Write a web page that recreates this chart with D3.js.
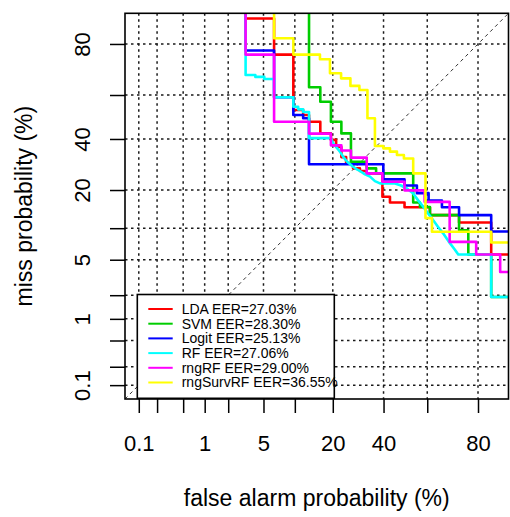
<!DOCTYPE html>
<html>
<head>
<meta charset="utf-8">
<script src="https://cdn.jsdelivr.net/npm/d3@7"></script>
<style>
  html, body { margin: 0; padding: 0; background: #fff; }
  svg { display: block; }
  text { font-family: "Liberation Sans", Arial, Helvetica, sans-serif; fill: #000; }
</style>
</head>
<body>
<svg id="chart" width="510" height="517"></svg>
<script>
// DET curves: false alarm vs miss probability (%), both on normal-deviate axes.

const tickValues = [0.1, 0.2, 0.5, 1, 2, 5, 10, 20, 40, 60, 80];
const tickLabels = ["0.1", "", "", "1", "", "5", "", "20", "40", "", "80"];

const seriesNames  = ["LDA", "SVM", "Logit", "RF", "rngRF", "rngSurvRF"];
const eerValues    = [27.03, 28.30, 25.13, 27.06, 29.00, 36.55];
const seriesColors = ["#ff0000", "#00cd00", "#0000ff", "#00ffff", "#ff00ff", "#ffff00"];

// [false alarm %, miss %] step vertices for each classifier
const lda = [[3.2,99.9],[3.2,87.2],[6.4,87.2],[6.4,76.4],[9.7,76.4],[9.7,53.2],[11.8,53.2],[11.8,50.9],
  [13.2,50.9],[13.2,47.8],[16.2,47.8],[16.2,42.5],[19.4,42.5],[19.4,39.6],[21.1,39.6],[21.1,36.5],
  [22.9,36.5],[22.9,32.2],[24.6,32.2],[24.6,29.8],[27.2,29.8],[27.2,27.7],[29.9,27.7],[29.9,26.7],
  [32.7,26.7],[32.7,25.8],[39.5,25.8],[39.5,17.9],[42.9,17.9],[42.9,16.2],[49.6,16.2],[49.6,14.9],
  [61.2,14.9],[61.2,12.9],[73.3,12.9],[73.3,11.2],[84.0,11.2],[84.0,5.65],[99.9,5.65]];

const svm = [[13.2,99.9],[13.2,63.4],[16.2,63.4],[16.2,57.0],[19.4,57.0],[19.4,47.8],[22.9,47.8],[22.9,42.5],
  [26.4,42.5],[26.4,30.3],[32.7,30.3],[32.7,27.7],[36.7,27.7],[36.7,25.8],[53.6,25.8],[53.6,16.2],
  [56.7,16.2],[56.7,15.0],[61.2,15.0],[61.2,12.9],[73.3,12.9],[73.3,9.6],[76.7,9.6],[76.7,5.65],
  [84.0,5.65],[84.0,1.9],[99.9,1.9]];

const logit = [[3.2,99.9],[3.2,77.8],[6.4,77.8],[6.4,59.0],[9.7,59.0],[9.7,50.9],[11.8,50.9],[11.8,49.4],
  [13.2,49.4],[13.2,29.3],[39.9,29.3],[39.9,23.6],[49.6,23.6],[49.6,21.5],[55.3,21.5],[55.3,19.0],
  [60.6,19.0],[60.6,16.8],[66.4,16.8],[66.4,14.9],[73.3,14.9],[73.3,12.9],[84.0,12.9],[84.0,9.35],
  [99.9,9.35]];

const rf = [[3.2,99.9],[3.2,68.6],[4.1,68.6],[4.1,67.8],[5.1,67.8],[5.1,66.9],[6.4,66.9],[6.4,59.0],
  [9.7,59.0],[9.7,54.7],[10.7,54.7],[10.7,53.5],[11.8,53.5],[11.8,52.3],[13.2,52.3],[13.2,40.4],
  [19.4,40.4],[20.1,38.2],[21.1,36.5],[22.4,34.5],[23.5,32.4],[24.9,30.4],[26.0,29.4],[27.2,28.3],
  [28.7,27.3],[29.9,26.7],[32.0,25.4],[34.1,24.6],[36.2,23.0],[38.4,22.2],[45.2,22.2],[48.0,21.5],
  [50.7,20.5],[53.5,19.0],[55.8,16.9],[58.1,15.1],[60.3,13.35],[62.5,11.8],[64.7,10.3],[66.9,9.0],
  [69.7,7.3],[71.7,6.3],[73.0,5.65],[84.0,5.65],[84.0,1.9],[99.9,1.9]];

const rngRF = [[3.2,99.9],[3.2,76.4],[6.4,76.4],[6.4,47.8],[13.2,47.8],[13.2,42.4],[19.4,42.4],[19.4,37.2],
  [22.9,37.2],[22.9,35.0],[26.4,35.0],[26.4,32.0],[32.7,32.0],[32.7,25.8],[39.5,25.8],[39.5,22.8],
  [49.6,22.8],[49.6,19.9],[58.8,19.9],[58.8,16.4],[69.6,16.4],[69.6,7.5],[79.4,7.5],[79.4,5.65],
  [86.4,5.65],[86.4,3.7],[99.9,3.7]];

const rngSurvRF = [[6.4,99.9],[6.4,81.8],[9.7,81.8],[9.7,76.4],[16.1,76.4],[16.1,74.7],[19.1,74.7],[19.1,69.3],
  [22.8,69.3],[22.8,67.2],[26.2,67.2],[26.2,64.0],[29.7,64.0],[29.7,62.2],[33.0,62.2],[33.0,49.4],
  [36.2,49.4],[36.2,36.9],[39.9,36.9],[39.9,35.9],[42.9,35.9],[42.9,34.5],[46.1,34.5],[46.1,33.1],
  [49.3,33.1],[49.3,31.6],[53.6,31.6],[53.6,25.8],[59.2,25.8],[59.2,12.2],[62.1,12.2],[62.1,9.3],
  [84.0,9.3],[84.0,7.4],[99.9,7.4]];

const seriesData = [lda, svm, logit, rf, rngRF, rngSurvRF];

// Inverse standard normal CDF (Acklam's rational approximation)
function qnorm(p) {
  const a = [-3.969683028665376e+01, 2.209460984245205e+02, -2.759285104469687e+02,
              1.383577518672690e+02, -3.066479806614716e+01, 2.506628277459239e+00];
  const b = [-5.447609879822406e+01, 1.615858368580409e+02, -1.556989798598866e+02,
              6.680131188771972e+01, -1.328068155288572e+01];
  const c = [-7.784894002430293e-03, -3.223964580411365e-01, -2.400758277161838e+00,
             -2.549732539343734e+00, 4.374664141464968e+00, 2.938163982698783e+00];
  const d = [7.784695709041462e-03, 3.224671290700398e-01, 2.445134137142996e+00,
             3.754408661907416e+00];
  const pl = 0.02425, ph = 1 - pl;
  let q, r;
  if (p < pl) {
    q = Math.sqrt(-2 * Math.log(p));
    return (((((c[0]*q+c[1])*q+c[2])*q+c[3])*q+c[4])*q+c[5]) / ((((d[0]*q+d[1])*q+d[2])*q+d[3])*q+1);
  }
  if (p > ph) {
    q = Math.sqrt(-2 * Math.log(1 - p));
    return -(((((c[0]*q+c[1])*q+c[2])*q+c[3])*q+c[4])*q+c[5]) / ((((d[0]*q+d[1])*q+d[2])*q+d[3])*q+1);
  }
  q = p - 0.5; r = q * q;
  return (((((a[0]*r+a[1])*r+a[2])*r+a[3])*r+a[4])*r+a[5])*q /
         (((((b[0]*r+b[1])*r+b[2])*r+b[3])*r+b[4])*r+1);
}
const dev = pct => qnorm(pct / 100);

// Layout
const plot = { left: 125, right: 508.5, top: 13.3, bottom: 399 };
const devLimits = [-3.25, 1.195];

const xDev = d3.scaleLinear().domain(devLimits).range([plot.left, plot.right]);
const yDev = d3.scaleLinear().domain(devLimits).range([plot.bottom, plot.top]);
const xPos = pct => xDev(dev(pct));
const yPos = pct => yDev(dev(pct));

const svg = d3.select("#chart");

svg.append("defs").append("clipPath").attr("id", "plotClip")
  .append("rect")
  .attr("x", plot.left).attr("y", plot.top)
  .attr("width", plot.right - plot.left).attr("height", plot.bottom - plot.top);

// Dotted grid at every tick
const grid = svg.append("g").attr("class", "grid")
  .attr("stroke", "#1a1a1a").attr("stroke-width", 1.5).attr("stroke-dasharray", "2.5,3.5");
grid.selectAll("line.v").data(tickValues).join("line").attr("class", "v")
  .attr("x1", d => xPos(d)).attr("x2", d => xPos(d))
  .attr("y1", plot.top).attr("y2", plot.bottom);
grid.selectAll("line.h").data(tickValues).join("line").attr("class", "h")
  .attr("y1", d => yPos(d)).attr("y2", d => yPos(d))
  .attr("x1", plot.left).attr("x2", plot.right);

// Chance diagonal
svg.append("line")
  .attr("x1", xDev(devLimits[0])).attr("y1", yDev(devLimits[0]))
  .attr("x2", xDev(devLimits[1])).attr("y2", yDev(devLimits[1]))
  .attr("stroke", "#333").attr("stroke-width", 1).attr("stroke-dasharray", "3.5,3.5");

// Curves
const line = d3.line().x(d => xPos(d[0])).y(d => yPos(d[1]));
svg.append("g").attr("clip-path", "url(#plotClip)")
  .selectAll("path").data(seriesData).join("path")
  .attr("d", line)
  .attr("fill", "none")
  .attr("stroke", (d, i) => seriesColors[i])
  .attr("stroke-width", 2.6)
  .attr("stroke-linejoin", "round")
  .attr("stroke-linecap", "round");

// Axes on deviate scale, labelled in percent
const tickDevs = tickValues.map(dev);
const labelOf = v => tickLabels[tickDevs.findIndex(t => Math.abs(t - v) < 1e-9)];

const xAxis = d3.axisBottom(xDev).tickValues(tickDevs).tickFormat(labelOf).tickSizeInner(14).tickSizeOuter(0);
const gx = svg.append("g").attr("transform", `translate(0,${plot.bottom})`).call(xAxis);
gx.select(".domain").remove();
gx.selectAll(".tick line").attr("stroke", "#000").attr("stroke-width", 1.5);
gx.selectAll(".tick text")
  .attr("y", 52).attr("dy", null)
  .attr("font-size", 22).attr("fill", "#000");

const yAxis = d3.axisLeft(yDev).tickValues(tickDevs).tickFormat(labelOf).tickSizeInner(15).tickSizeOuter(0);
const gy = svg.append("g").attr("transform", `translate(${plot.left},0)`).call(yAxis);
gy.select(".domain").remove();
gy.selectAll(".tick line").attr("stroke", "#000").attr("stroke-width", 1.5);
gy.selectAll(".tick text")
  .attr("x", 0).attr("y", 0).attr("dy", null)
  .attr("text-anchor", "middle")
  .attr("transform", "translate(-35,0) rotate(-90)")
  .attr("font-size", 22).attr("fill", "#000");

// Plot frame
svg.append("rect")
  .attr("x", plot.left).attr("y", plot.top)
  .attr("width", plot.right - plot.left).attr("height", plot.bottom - plot.top)
  .attr("fill", "none").attr("stroke", "#000").attr("stroke-width", 1.6);

// Axis titles
svg.append("text")
  .attr("x", (plot.left + plot.right) / 2).attr("y", 506)
  .attr("text-anchor", "middle").attr("font-size", 23)
  .text("false alarm probability (%)");
svg.append("text")
  .attr("transform", `translate(32,${(plot.top + plot.bottom) / 2}) rotate(-90)`)
  .attr("text-anchor", "middle").attr("font-size", 23)
  .text("miss probability (%)");

// Legend
const legend = { x: 137.3, y: 294.5, w: 197, h: 103.8, row0: 309, rowStep: 14.7 };
const lg = svg.append("g");
lg.append("rect")
  .attr("x", legend.x).attr("y", legend.y).attr("width", legend.w).attr("height", legend.h)
  .attr("fill", "#fff").attr("stroke", "#000").attr("stroke-width", 1.6);
const rows = lg.selectAll("g.row").data(seriesNames).join("g").attr("class", "row")
  .attr("transform", (d, i) => `translate(0,${legend.row0 + i * legend.rowStep})`);
rows.append("line")
  .attr("x1", 148.3).attr("x2", 172.7).attr("y1", 0).attr("y2", 0)
  .attr("stroke", (d, i) => seriesColors[i]).attr("stroke-width", 2);
rows.append("text")
  .attr("x", 181.7).attr("y", 0).attr("dy", "0.35em")
  .attr("font-size", 14)
  .text((d, i) => `${d} EER=${eerValues[i].toFixed(2)}%`);
</script>
</body>
</html>
